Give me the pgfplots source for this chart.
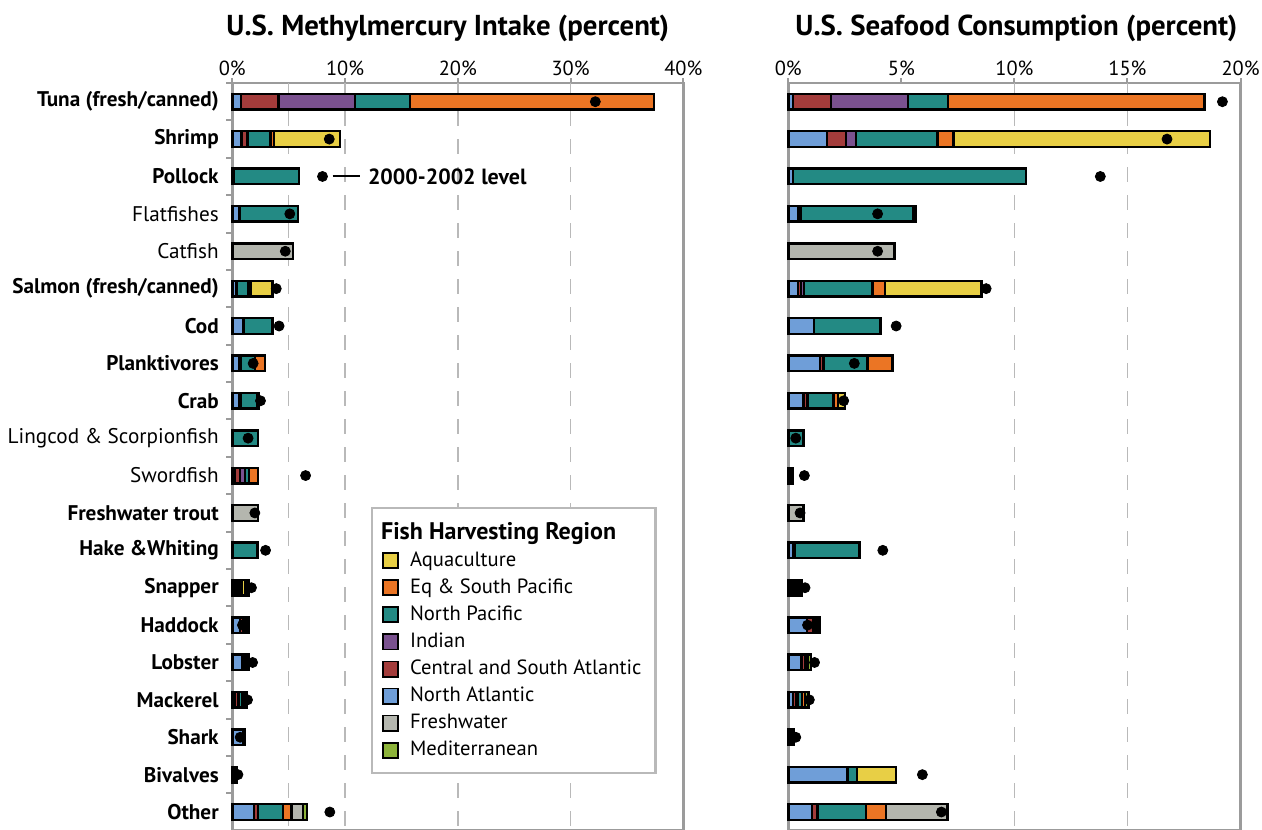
\documentclass[border=0pt]{standalone}
\usepackage{pgfplots}
\pgfplotsset{compat=1.18}
\usepackage{pgfplotstable}
\usepackage{fontspec}
\setmainfont{PT Sans}

% region colours
\definecolor{cAqua}{RGB}{232,207,69}
\definecolor{cEqSP}{RGB}{235,117,36}
\definecolor{cNP}{RGB}{35,138,132}
\definecolor{cInd}{RGB}{122,81,143}
\definecolor{cCSA}{RGB}{163,60,59}
\definecolor{cNA}{RGB}{111,158,216}
\definecolor{cFW}{RGB}{180,182,174}
\definecolor{cMed}{RGB}{141,179,58}
\definecolor{framec}{RGB}{155,155,155}
\definecolor{gridc}{RGB}{185,185,185}

% methylmercury intake (percent) by harvesting region; dot = 2000-2002 level
\pgfplotstableread{
idx na   csa  ind  np   eqsp  aq   fw   med  dot
0   0.75 3.35 6.8  4.85 21.65 0    0    0    32.2
1   0.8  0.5  0.1  2.0  0.3   5.85 0    0    8.6
2   0.1  0    0    5.8  0     0    0    0    8.0
3   0.58 0.05 0    5.22 0     0    0    0    5.1
4   0    0    0    0    0     0    5.4  0    4.7
5   0.35 0.05 0    1.05 0.15  1.95 0    0.05 3.9
6   0.95 0.08 0    2.52 0     0    0    0    4.15
7   0.6  0.15 0    1.25 0.9   0    0    0    1.85
8   0.6  0.15 0    1.5  0     0    0    0.1  2.5
9   0    0    0    2.3  0     0    0    0    1.4
10  0.2  0.5  0.45 0.35 0.8   0    0    0    6.5
11  0    0    0    0    0     0    2.3  0    2.0
12  0.05 0    0    2.2  0     0    0    0    2.95
13  0.2  0.2  0.1  0.15 0.15  0.3  0.2  0.2  1.7
14  0.7  0.25 0    0.2  0.1   0    0.1  0.07 0.9
15  0.92 0.25 0    0.15 0     0    0    0.1  1.8
16  0.25 0.3  0    0.3  0.15  0    0    0.27 1.35
17  1.0  0    0    0.15 0     0    0    0    0.7
18  0.15 0    0    0.15 0     0.1  0    0    0.5
19  1.95 0.35 0    2.2  0.75  0    1.0  0.4  8.65
}\mercury

% seafood consumption (percent) by harvesting region; dot = 2000-2002 level
\pgfplotstableread{
idx na   csa  ind  np    eqsp  aq    fw   med  dot
0   0.2  1.7  3.4  1.75  11.35 0     0    0    19.2
1   1.7  0.85 0.45 3.6   0.7   11.35 0    0    16.75
2   0.2  0    0    10.3  0     0     0    0    13.8
3   0.42 0.12 0    5.0   0     0     0    0.12 3.95
4   0    0    0    0     0     0     4.7  0    3.95
5   0.42 0.13 0.15 3.02  0.55  4.28  0    0    8.75
6   1.14 0    0    2.94  0     0     0    0    4.77
7   1.41 0.14 0    1.96  1.09  0     0    0    2.92
8   0.67 0.18 0    1.15  0.2   0.32  0    0    2.45
9   0    0    0    0.67  0     0     0    0    0.33
10  0.05 0.05 0    0.05  0.07  0     0    0    0.71
11  0    0    0    0     0     0     0.67 0    0.52
12  0.22 0.08 0    2.84  0     0     0    0    4.18
13  0.1  0.1  0    0.12  0.05  0.1   0    0.12 0.74
14  0.82 0.29 0    0.1   0.07  0     0.05 0.05 0.85
15  0.59 0.15 0    0.1   0     0     0    0.16 1.16
16  0.22 0.13 0.05 0.2   0.15  0     0    0.14 0.93
17  0.1  0.08 0    0.07  0     0     0    0    0.33
18  2.6  0.05 0    0.39  0     1.73  0    0    5.93
19  1.04 0.25 0    2.15  0.89  0     2.71 0    6.77
}\seafood

\pgfplotsset{
  fishpanel/.style={
    scale only axis, height=373.85pt,
    y dir=reverse, ymin=-0.5, ymax=19.5,
    axis line style={framec, line width=1.3pt},
    tick style={framec, line width=1pt},
    tick align=outside,
    xtick pos=upper, xticklabel pos=upper,
    major tick length=2.5pt, minor tick length=3pt,
    xticklabel={\pgfmathprintnumber{\tick}\%},
    /pgf/number format/assume math mode=true,
    ticklabel style={font=\fontsize{10.2}{12}\selectfont},
    xticklabel style={yshift=-2.3pt},
    extra x tick style={grid=major, major tick length=0pt},
    extra x tick labels={},
    major grid style={gridc, line width=0.8pt, dash pattern=on 7.5pt off 6.5pt},
    bar width=7.8pt,
    clip=false,
    title style={font=\bfseries\fontsize{14.4}{17}\selectfont, at={(0.5,1)}, anchor=center, yshift=21.3pt},
  },
  seg/.style={xbar stacked, bar shift=0pt, draw=black, line width=1.2pt, fill=#1, forget plot},
  lvl/.style={only marks, mark=*, mark size=2.5pt, black, forget plot},
  swatch/.style={legend image code/.code={\draw[fill=#1, draw=black, line width=0.9pt] (0pt,-3.8pt) rectangle (7.6pt,3.8pt); \path (11pt,0pt);}},
}

\begin{document}
\begin{tikzpicture}
\useasboundingbox (0,0) rectangle (631pt,-414.5pt);

% ---------------- methylmercury intake ----------------
\begin{axis}[fishpanel,
  at={(116.15pt,-41.5pt)}, anchor=north west, width=225.5pt,
  xmin=0, xmax=40, xtick={0,10,...,40},
  extra x ticks={5,10,20,30},
  title={U.S. Methylmercury Intake (percent)}, title style={xshift=-5pt},
  ytick={0,...,19}, ytick pos=left, major y tick style={draw=none},
  minor ytick={-0.5,0.5,...,19.5},
  yticklabels={\textbf{Tuna (fresh/canned)},\textbf{Shrimp},\textbf{Pollock},Flatfishes,Catfish,
    \textbf{Salmon (fresh/canned)},\textbf{Cod},\textbf{Planktivores},\textbf{Crab},Lingcod \& Scorpionfish,
    Swordfish,\textbf{Freshwater trout},\textbf{Hake \&Whiting},\textbf{Snapper},\textbf{Haddock},
    \textbf{Lobster},\textbf{Mackerel},\textbf{Shark},\textbf{Bivalves},\textbf{Other}},
  yticklabel style={inner sep=0pt, xshift=-4.1pt, font=\fontsize{10.6}{12}\selectfont},
  legend style={at={(0.3075,0.433)}, anchor=north west, draw=gridc, line width=1.1pt, fill=white,
    font=\fontsize{10.3}{12}\selectfont, row sep=0.75pt, inner xsep=5pt, inner ysep=5pt},
  legend cell align=left,
]
\addplot[seg=cNA]   table[x=na,   y=idx] {\mercury};
\addplot[seg=cCSA]  table[x=csa,  y=idx] {\mercury};
\addplot[seg=cInd]  table[x=ind,  y=idx] {\mercury};
\addplot[seg=cNP]   table[x=np,   y=idx] {\mercury};
\addplot[seg=cEqSP] table[x=eqsp, y=idx] {\mercury};
\addplot[seg=cAqua] table[x=aq,   y=idx] {\mercury};
\addplot[seg=cFW]   table[x=fw,   y=idx] {\mercury};
\addplot[seg=cMed]  table[x=med,  y=idx] {\mercury};
\addplot[lvl] table[x=dot, y=idx] {\mercury};

\draw[black, line width=1pt] (axis cs:8.9,2) -- (axis cs:11.3,2);
\node[anchor=west, font=\bfseries\fontsize{11}{13}\selectfont, inner sep=0pt] at (axis cs:12.0,2) {2000-2002 level};

\addlegendimage{empty legend}
\addlegendentry{\hspace*{-14.5pt}\textbf{\fontsize{12}{13}\selectfont Fish Harvesting Region}}
\addlegendimage{swatch=cAqua}\addlegendentry{Aquaculture}
\addlegendimage{swatch=cEqSP}\addlegendentry{Eq \& South Pacific}
\addlegendimage{swatch=cNP}\addlegendentry{North Pacific}
\addlegendimage{swatch=cInd}\addlegendentry{Indian}
\addlegendimage{swatch=cCSA}\addlegendentry{Central and South Atlantic}
\addlegendimage{swatch=cNA}\addlegendentry{North Atlantic}
\addlegendimage{swatch=cFW}\addlegendentry{Freshwater}
\addlegendimage{swatch=cMed}\addlegendentry{Mediterranean}
\end{axis}

% ---------------- seafood consumption ----------------
\begin{axis}[fishpanel,
  at={(394.15pt,-41.5pt)}, anchor=north west, width=226.1pt,
  xmin=0, xmax=20, xtick={0,5,...,20},
  extra x ticks={10,15},
  title={U.S. Seafood Consumption (percent)}, title style={xshift=1pt},
  ytick=\empty,
]
\addplot[seg=cNA]   table[x=na,   y=idx] {\seafood};
\addplot[seg=cCSA]  table[x=csa,  y=idx] {\seafood};
\addplot[seg=cInd]  table[x=ind,  y=idx] {\seafood};
\addplot[seg=cNP]   table[x=np,   y=idx] {\seafood};
\addplot[seg=cEqSP] table[x=eqsp, y=idx] {\seafood};
\addplot[seg=cAqua] table[x=aq,   y=idx] {\seafood};
\addplot[seg=cFW]   table[x=fw,   y=idx] {\seafood};
\addplot[seg=cMed]  table[x=med,  y=idx] {\seafood};
\addplot[lvl] table[x=dot, y=idx] {\seafood};
\end{axis}
\end{tikzpicture}
\end{document}
